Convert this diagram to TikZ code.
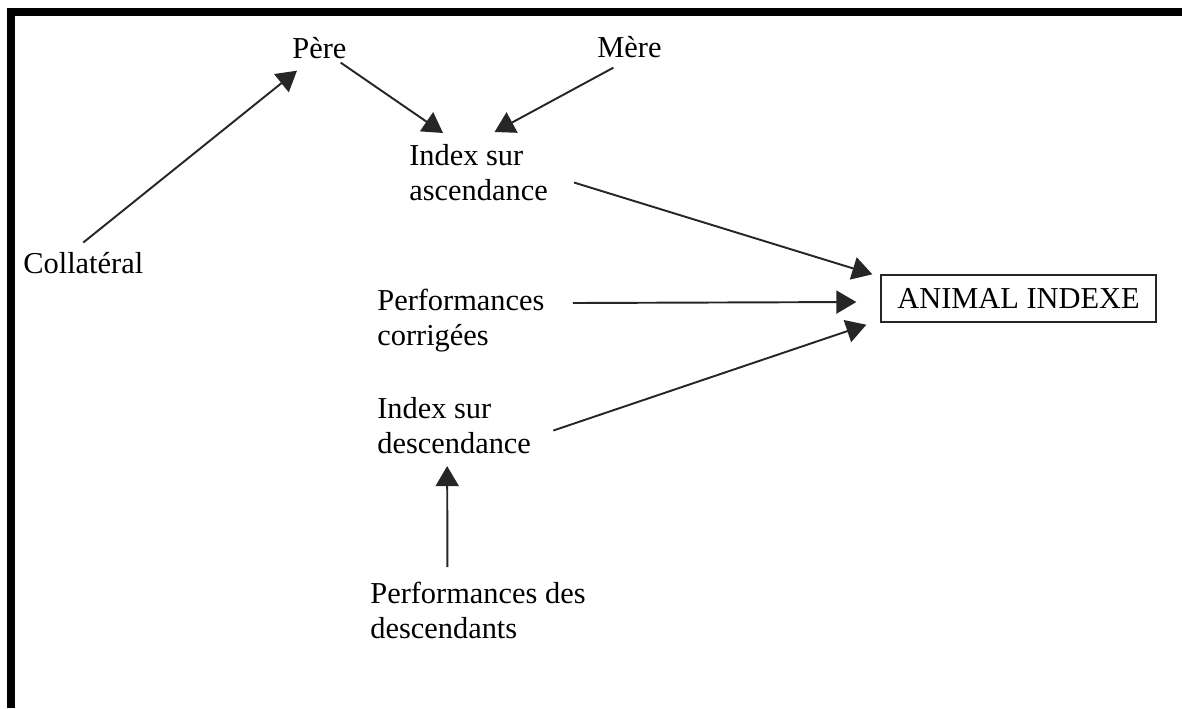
\documentclass[tikz,border=0pt]{standalone}
\usepackage{fontspec}
\setmainfont{Liberation Serif}
\usetikzlibrary{arrows.meta,calc}

\begin{document}
\begin{tikzpicture}[x=0.02cm, y=-0.02cm,
        label/.style={inner sep=0, align=left, font=\fontsize{17.3}{19.9}\selectfont},
        arr/.style={-{Triangle[length=0.4cm, width=0.46cm]}, line width=1.1pt, black!85}]
            \useasboundingbox (0, 0) rectangle (1182, 708);
            \fill (7, 8) rectangle (1182, 16);
            \fill (7, 8) rectangle (15, 708);
            \node[label, anchor=base west] (coll) at (23, 273) {Collatéral};
            \node[label, anchor=base west] (pere) at (292, 58) {Père};
            \node[label, anchor=base west] (mere) at (597, 57) {Mère};
            \node[label, anchor=north west] (iasc) at (409, 144) {Index sur\\ascendance};
            \node[label, anchor=north west] (pcor) at (377, 289) {Performances\\corrigées};
            \node[label, anchor=north west] (idesc) at (377, 397) {Index sur\\descendance};
            \node[label, anchor=north west] (pdesc) at (370, 582) {Performances des\\descendants};
            \node[draw, line width=0.8pt, black!85, text=black, font=\fontsize{17.3}{19.9}\selectfont,
                minimum width=5.5cm, minimum height=0.94cm, inner sep=0] (animal) at (1018.5, 298.5) {ANIMAL INDEXE};
            \draw[arr] ($(coll.north)+(0, -9)$) -- ($(pere.south west)+(5, 12)$);
            \draw[arr] ($(pere.south east)+(-6, 4)$) -- ($(iasc.north west)+(34, -11)$);
            \draw[arr] ($(mere.south)+(-16, 10)$) -- ($(iasc.north)+(16, -12)$);
            \draw[arr] ($(iasc.east)+(26, 10)$) -- ($(animal.north west)+(-8, 0)$);
            \draw[arr] ($(pcor.north east)+(28, 14)$) -- ($(animal.west)+(-24, 3.5)$);
            \draw[arr] ($(idesc.east)+(22, 5)$) -- ($(animal.south west)+(-14, 2)$);
            \draw[arr] ($(pdesc.north)+(-30.5, -15)$) -- ($(idesc.south)+(-7, 12)$);
        \end{tikzpicture}
\end{document}
